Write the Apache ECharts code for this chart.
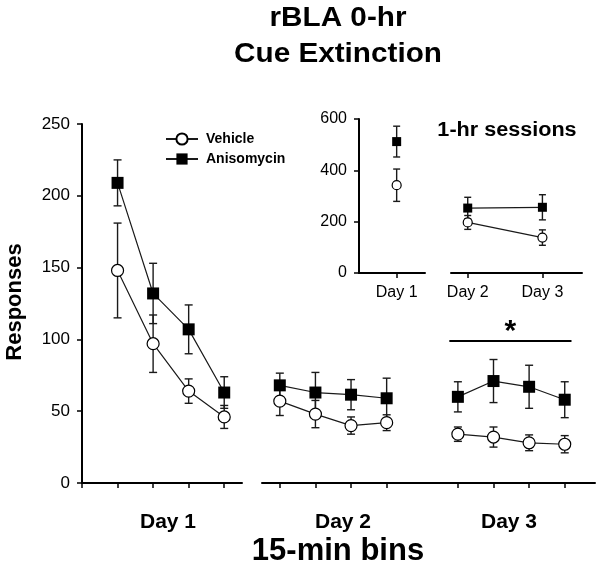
<!DOCTYPE html>
<html><head><meta charset="utf-8">
<script src="https://cdn.jsdelivr.net/npm/echarts@6/dist/echarts.min.js"></script>
<style>html,body{margin:0;padding:0;background:#fff}#c{width:602px;height:569px}</style>
</head><body><div id="c"></div>
<script>
const FONT = '"Liberation Sans", Arial, sans-serif';
const days = ['Day 1', 'Day 2', 'Day 3'];
const bins = [1, 2, 3, 4];
// 15-min bins, Day 1 bins 1-4, Day 2 bins 1-4, Day 3 bins 1-4
const vehicleMean = [148, 97, 64, 46, 57, 48, 40, 42, 34, 32, 28, 27];
const vehicleSem  = [33, 20, 8.5, 8, 10, 9.5, 6, 5.5, 5, 7, 5.5, 6];
const anisoMean   = [209, 132, 107, 63, 68, 63, 61.5, 59, 60, 71, 67, 58];
const anisoSem    = [16, 21, 17, 11, 8.5, 14, 10.5, 14, 10.5, 15, 15, 12.5];
// 1-hr sessions inset
const insetVehicleMean = [342, 197, 138];
const insetVehicleSem  = [63, 27, 30];
const insetAnisoMean   = [512, 253, 256];
const insetAnisoSem    = [60, 42, 49];
const mainYTicks = [0, 50, 100, 150, 200, 250];
const insetYTicks = [0, 200, 400, 600];
const sigBar = { day: 3, fromBin: 0.76, toBin: 4.19, value: 99, label: '*' };

function mainX(day, bin) { return day === 1 ? bin : (day - 2) * 5 + bin - 0.5; }
function mainAxis(day) { return day === 1 ? 0 : 1; }

function errRender(capHalf) {
  return function (params, api) {
    const x = api.value(0);
    const p1 = api.coord([x, api.value(1)]);
    const p2 = api.coord([x, api.value(2)]);
    const st = { stroke: '#1a1a1a', lineWidth: 1.4 };
    return { type: 'group', children: [
      { type: 'line', shape: { x1: p1[0], y1: p1[1], x2: p2[0], y2: p2[1] }, style: st },
      { type: 'line', shape: { x1: p1[0] - capHalf, y1: p1[1], x2: p1[0] + capHalf, y2: p1[1] }, style: st },
      { type: 'line', shape: { x1: p2[0] - capHalf, y1: p2[1], x2: p2[0] + capHalf, y2: p2[1] }, style: st }
    ]};
  };
}
function errSeries(name, axis, data, capHalf) {
  return { type: 'custom', name: name, xAxisIndex: axis, yAxisIndex: axis, renderItem: errRender(capHalf),
    data: data, encode: { x: 0, y: [1, 2] }, silent: true, clip: false, z: 2 };
}
function lineSeries(name, axis, data, isVeh, size) {
  return { type: 'line', name: name, xAxisIndex: axis, yAxisIndex: axis, data: data,
    symbol: isVeh ? 'circle' : 'rect', symbolSize: size, showSymbol: true, silent: true,
    lineStyle: { color: '#1a1a1a', width: 1.2 },
    itemStyle: isVeh ? { color: '#fff', borderColor: '#000', borderWidth: 1.2 } : { color: '#000', borderWidth: 0 },
    emphasis: { disabled: true }, z: 2 };
}

const vehErr = [], vehLines = [], aniErr = [], aniLines = [];
[1, 2, 3].forEach(function (day) {
  const ax = mainAxis(day);
  const vE = [], vL = [], aE = [], aL = [];
  bins.forEach(function (b, i) {
    const k = (day - 1) * 4 + i, x = mainX(day, b);
    vE.push([x, vehicleMean[k] - vehicleSem[k], vehicleMean[k] + vehicleSem[k]]);
    vL.push([x, vehicleMean[k]]);
    aE.push([x, anisoMean[k] - anisoSem[k], anisoMean[k] + anisoSem[k]]);
    aL.push([x, anisoMean[k]]);
  });
  vehErr.push(errSeries('Vehicle SEM', ax, vE, 4));
  vehLines.push(lineSeries('Vehicle', ax, vL, true, 12));
  aniErr.push(errSeries('Anisomycin SEM', ax, aE, 4));
  const s = lineSeries('Anisomycin', ax, aL, false, 12);
  if (day === sigBar.day) {
    s.markLine = { silent: true, symbol: ['none', 'none'], animation: false,
      lineStyle: { color: '#000', width: 2, type: 'solid' },
      label: { show: true, position: 'middle', formatter: sigBar.label, color: '#000', fontSize: 30, fontWeight: 'bold', fontFamily: FONT, distance: -6 },
      emphasis: { disabled: true },
      data: [[{ coord: [mainX(day, sigBar.fromBin), sigBar.value] }, { coord: [mainX(day, sigBar.toBin), sigBar.value] }]] };
  }
  aniLines.push(s);
});

// inset: axis 2 = Day 1, axis 3 = Days 2-3
const insVehErr = [], insVehLines = [], insAniErr = [], insAniLines = [];
[[0], [1, 2]].forEach(function (group, gi) {
  const ax = 2 + gi;
  insVehErr.push(errSeries('Vehicle SEM', ax, group.map(i => [i + 1, insetVehicleMean[i] - insetVehicleSem[i], insetVehicleMean[i] + insetVehicleSem[i]]), 3.5));
  insVehLines.push(lineSeries('Vehicle', ax, group.map(i => [i + 1, insetVehicleMean[i]]), true, 9));
  insAniErr.push(errSeries('Anisomycin SEM', ax, group.map(i => [i + 1, insetAnisoMean[i] - insetAnisoSem[i], insetAnisoMean[i] + insetAnisoSem[i]]), 3.5));
  insAniLines.push(lineSeries('Anisomycin', ax, group.map(i => [i + 1, insetAnisoMean[i]]), false, 9));
});

const axLine = { show: true, onZero: false, lineStyle: { color: '#000', width: 2 } };
function xAx(grid, min, max, ticks, labelOpt) {
  return { type: 'value', gridIndex: grid, min: min, max: max, axisLine: axLine,
    axisTick: { show: true, inside: false, length: 5, customValues: ticks, lineStyle: { color: '#000', width: 1.5 } },
    axisLabel: labelOpt || { show: false }, splitLine: { show: false } };
}
function yAx(grid, max, interval, show, fontSize, margin) {
  return { type: 'value', gridIndex: grid, min: 0, max: max, interval: interval, show: show,
    axisLine: axLine, axisTick: { show: true, length: 5, lineStyle: { color: '#000', width: 1.5 } },
    axisLabel: { color: '#000', fontSize: fontSize, fontFamily: FONT, margin: margin },
    splitLine: { show: false } };
}
const insetLabel = { show: true, color: '#000', fontSize: 16, fontFamily: FONT, margin: 12,
  formatter: function (v) { return days[Math.round(v) - 1]; } };

const option = {
  animation: false,
  backgroundColor: '#fff',
  grid: [
    { left: 82, top: 124, width: 160, height: 359 },
    { left: 262, top: 124, width: 333, height: 359 },
    { left: 359, top: 119, width: 66, height: 154 },
    { left: 451, top: 119, width: 131, height: 154 }
  ],
  xAxis: [
    xAx(0, 0, 4.5, [0].concat(bins.map(b => mainX(1, b)))),
    xAx(1, 0, 9.35, bins.map(b => mainX(2, b)).concat(bins.map(b => mainX(3, b)))),
    xAx(2, 0.495, 1.38, [1], Object.assign({ customValues: [1] }, insetLabel)),
    xAx(3, 1.776, 3.53, [2, 3], Object.assign({ customValues: [2, 3] }, insetLabel))
  ],
  yAxis: [
    yAx(0, mainYTicks[mainYTicks.length - 1], mainYTicks[1] - mainYTicks[0], true, 17, 12),
    yAx(1, mainYTicks[mainYTicks.length - 1], mainYTicks[1] - mainYTicks[0], false, 17, 12),
    yAx(2, insetYTicks[insetYTicks.length - 1], insetYTicks[1] - insetYTicks[0], true, 16, 12),
    yAx(3, insetYTicks[insetYTicks.length - 1], insetYTicks[1] - insetYTicks[0], false, 16, 12)
  ],
  legend: {
    data: ['Vehicle', 'Anisomycin'], orient: 'vertical', left: 160, top: 127,
    itemWidth: 32, itemHeight: 14, itemGap: 6, selectedMode: false,
    textStyle: { color: '#000', fontSize: 14, fontWeight: 'bold', fontFamily: FONT, padding: [0, 0, 0, 3] }
  },
  series: [].concat(vehLines.slice(0, 1), vehErr, vehLines.slice(1), aniErr, aniLines,
    insVehErr, insVehLines, insAniErr, insAniLines),
  graphic: [
    { type: 'text', x: 338, y: 19, scaleX: 1.1, silent: true, style: { text: 'rBLA 0-hr', fill: '#000', fontSize: 27, fontWeight: 'bold', fontFamily: FONT, textAlign: 'center', textVerticalAlign: 'middle' } },
    { type: 'text', x: 338, y: 55, scaleX: 1.1, silent: true, style: { text: 'Cue Extinction', fill: '#000', fontSize: 27, fontWeight: 'bold', fontFamily: FONT, textAlign: 'center', textVerticalAlign: 'middle' } },
    { type: 'text', x: 507, y: 130, scaleX: 1.08, silent: true, style: { text: '1-hr sessions', fill: '#000', fontSize: 20, fontWeight: 'bold', fontFamily: FONT, textAlign: 'center', textVerticalAlign: 'middle' } },
    { type: 'text', x: 168, y: 522, silent: true, style: { text: days[0], fill: '#000', fontSize: 21, fontWeight: 'bold', fontFamily: FONT, textAlign: 'center', textVerticalAlign: 'middle' } },
    { type: 'text', x: 343, y: 522, silent: true, style: { text: days[1], fill: '#000', fontSize: 21, fontWeight: 'bold', fontFamily: FONT, textAlign: 'center', textVerticalAlign: 'middle' } },
    { type: 'text', x: 509, y: 522, silent: true, style: { text: days[2], fill: '#000', fontSize: 21, fontWeight: 'bold', fontFamily: FONT, textAlign: 'center', textVerticalAlign: 'middle' } },
    { type: 'text', x: 338, y: 551, silent: true, style: { text: '15-min bins', fill: '#000', fontSize: 31, fontWeight: 'bold', fontFamily: FONT, textAlign: 'center', textVerticalAlign: 'middle' } },
    { type: 'text', x: 15, y: 302, rotation: Math.PI / 2, silent: true, style: { text: 'Responses', fill: '#000', fontSize: 22, fontWeight: 'bold', fontFamily: FONT, textAlign: 'center', textVerticalAlign: 'middle' } }
  ]
};
const chart = echarts.init(document.getElementById('c'), null, { renderer: 'canvas' });
chart.setOption(option);
</script>
</body></html>
